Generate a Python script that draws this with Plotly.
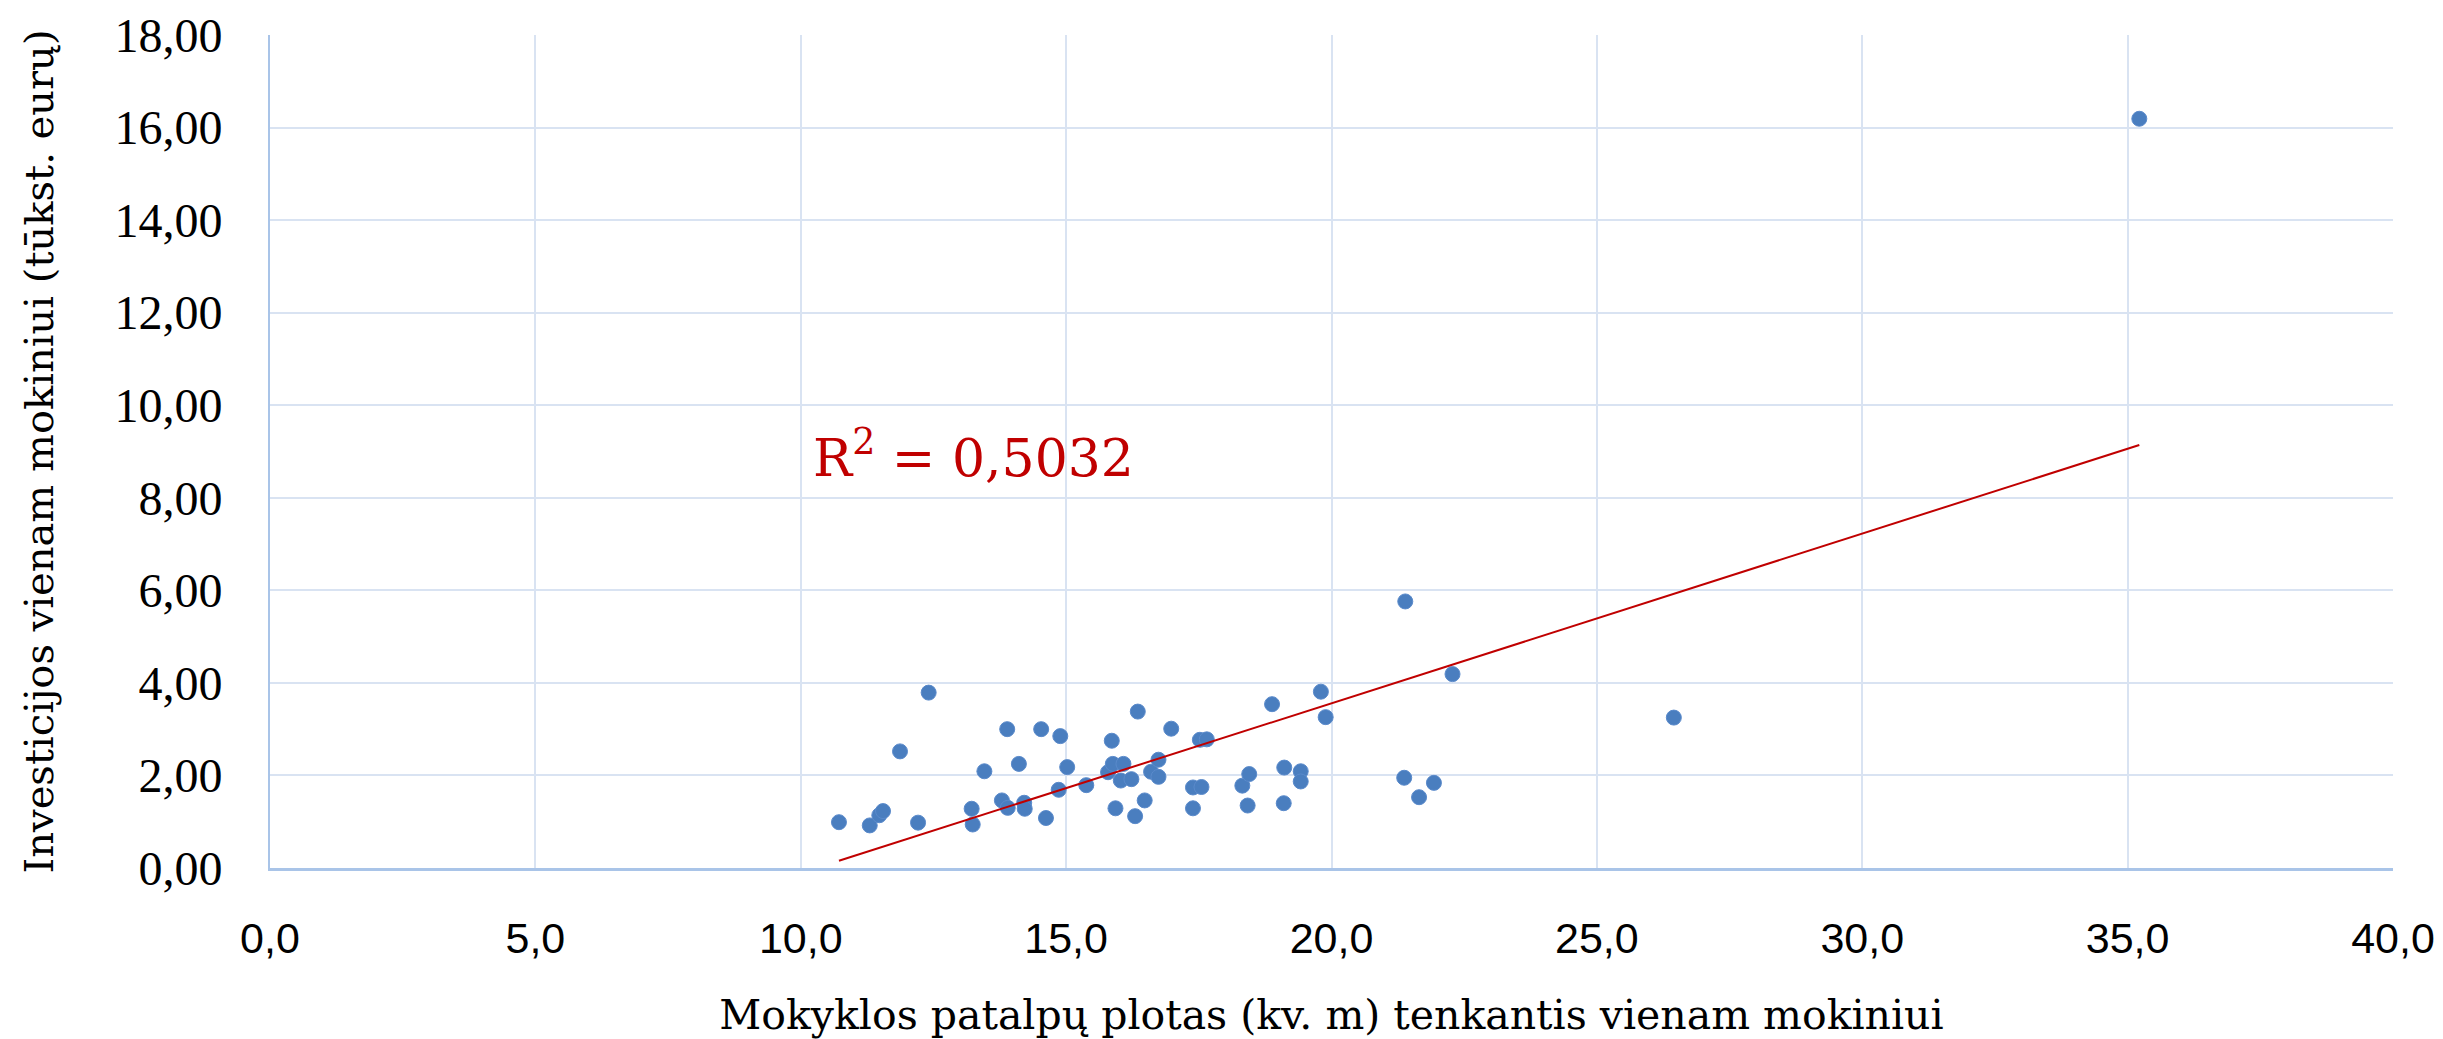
import numpy as np
import plotly.graph_objects as go

# Mokyklos patalpų plotas (kv. m) tenkantis vienam mokiniui
area_per_pupil = [
    12.41, 11.87, 10.72, 11.30, 11.48, 11.55, 12.21, 13.22, 13.24, 13.46,
    13.89, 13.79, 13.90, 14.11, 14.21, 14.22, 14.53, 14.62, 14.89, 14.86,
    15.02, 15.38, 15.86, 15.79, 15.88, 16.08, 16.03, 16.23, 15.93, 16.35,
    16.48, 16.30, 16.60, 16.74, 16.74, 16.98, 17.39, 17.55, 17.39, 17.52,
    17.65, 18.32, 18.45, 18.42, 18.88, 19.11, 19.10, 19.42, 19.42, 19.80,
    19.89, 21.39, 21.37, 21.65, 21.93, 22.28, 26.45, 35.22,
]
# Investicijos vienam mokiniui (tūkst. eurų)
invest_per_pupil = [
    3.79, 2.52, 0.99, 0.92, 1.14, 1.23, 0.98, 1.28, 0.94, 2.09,
    3.00, 1.46, 1.30, 2.25, 1.41, 1.28, 3.00, 1.08, 2.85, 1.69,
    2.18, 1.79, 2.75, 2.07, 2.25, 2.25, 1.89, 1.92, 1.29, 3.38,
    1.46, 1.12, 2.08, 2.34, 1.97, 3.01, 1.74, 1.75, 1.29, 2.77,
    2.78, 1.78, 2.03, 1.35, 3.54, 2.17, 1.40, 2.09, 1.87, 3.81,
    3.26, 5.76, 1.95, 1.53, 1.84, 4.19, 3.25, 16.19,
]
r2_label = "R<sup>2</sup> = 0,5032"

x = np.array(area_per_pupil)
y = np.array(invest_per_pupil)
slope, intercept = np.polyfit(x, y, 1)
trend_x = np.array([x.min(), x.max()])
trend_y = slope * trend_x + intercept

SERIF = "DejaVu Serif"
TICK_SERIF = "Liberation Serif"
SANS = "Liberation Sans"
GRID = "#D9E3F2"
AXIS = "#A9C4E8"

fig = go.Figure()
fig.add_trace(go.Scatter(
    x=x, y=y, mode="markers",
    marker=dict(size=15, color="#4A7EBF", line=dict(width=1, color="#5A8ACB")),
    showlegend=False, hoverinfo="x+y",
))
fig.add_trace(go.Scatter(
    x=trend_x, y=trend_y, mode="lines",
    line=dict(color="#C00000", width=2),
    showlegend=False, hoverinfo="skip",
))

fig.add_annotation(
    x=10.2, y=8.95, xref="x", yref="y", text=r2_label, showarrow=False,
    xanchor="left", yanchor="middle",
    font=dict(family=SERIF, size=52, color="#C00000"),
)

# the page body adds an 8 px offset; the figure is sized to fit the window
fig.update_layout(
    width=2435, height=1031,
    margin=dict(l=262, r=50, t=27, b=171, autoexpand=False),
    paper_bgcolor="white", plot_bgcolor="white",
    separators=",.",
    font=dict(family=SERIF, size=40, color="#000000"),
)
fig.update_xaxes(
    range=[0, 40], dtick=5, tick0=0, tickformat=".1f",
    showgrid=True, gridcolor=GRID, gridwidth=2,
    showline=True, linecolor=AXIS, linewidth=3,
    zeroline=False, ticks="", ticklabelstandoff=30,
    ticklabeloverflow="allow",
    tickfont=dict(family=SANS, size=43), automargin=False,
    title=dict(text="Mokyklos patalpų plotas (kv. m) tenkantis vienam mokiniui",
               font=dict(family=SERIF, size=41), standoff=44),
)
fig.update_yaxes(
    range=[0, 18], dtick=2, tick0=0, tickformat=".2f",
    showgrid=True, gridcolor=GRID, gridwidth=2,
    showline=True, linecolor=AXIS, linewidth=2,
    zeroline=False, ticks="", ticklabelstandoff=36,
    ticklabeloverflow="allow",
    tickfont=dict(family=TICK_SERIF, size=48), automargin=False,
    title=dict(text="Investicijos vienam mokiniui (tūkst. eurų)",
               font=dict(family=SERIF, size=40), standoff=48),
)

fig.write_html("out.html")
